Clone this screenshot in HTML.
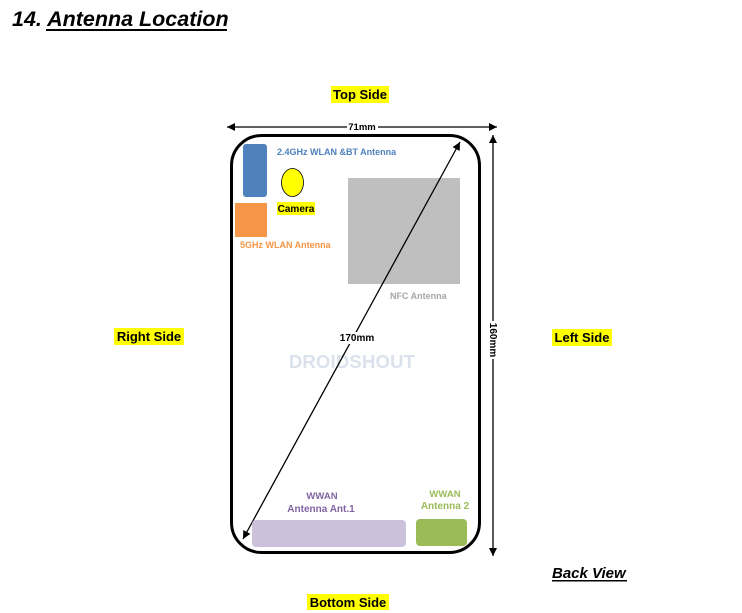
<!DOCTYPE html>
<html><head><meta charset="utf-8">
<style>
html,body{margin:0;padding:0;background:#fff;}
body{width:742px;height:613px;overflow:hidden;}
svg{display:block;}
text{font-family:"Liberation Sans",Arial,sans-serif;font-weight:bold;}
</style></head>
<body>
<svg width="742" height="613" viewBox="0 0 742 613" xmlns="http://www.w3.org/2000/svg">
<defs>
<marker id="ah" viewBox="0 0 10 10" refX="10" refY="5" markerWidth="9" markerHeight="8" markerUnits="userSpaceOnUse" orient="auto-start-reverse">
<path d="M0,0 L10,5 L0,10 z" fill="#000"/>
</marker>
</defs>

<!-- Title -->
<text x="12" y="26" font-size="21.5" font-style="italic" fill="#000">14. Antenna Location</text>
<rect x="46" y="29" width="181" height="2" fill="#000"/>

<!-- Top Side -->
<rect x="331" y="86" width="58" height="17" fill="#ffff00"/>
<text x="360" y="99" font-size="13" text-anchor="middle" fill="#000">Top Side</text>

<!-- 71mm arrow -->
<line x1="227" y1="127" x2="497" y2="127" stroke="#000" stroke-width="1.3" marker-start="url(#ah)" marker-end="url(#ah)"/>
<rect x="347" y="121" width="31" height="11" fill="#fff"/>
<text x="362" y="130" font-size="9.5" text-anchor="middle" fill="#000">71mm</text>

<!-- 160mm arrow -->
<line x1="493" y1="135" x2="493" y2="556" stroke="#000" stroke-width="1.3" marker-start="url(#ah)" marker-end="url(#ah)"/>
<rect x="488" y="321" width="11" height="38" fill="#fff"/>
<text x="0" y="0" font-size="10" text-anchor="middle" fill="#000" transform="translate(490,340) rotate(90)">160mm</text>

<!-- Phone outline -->
<rect x="231.5" y="135.5" width="248" height="417" rx="30" ry="30" fill="none" stroke="#000" stroke-width="3"/>

<!-- Blue antenna -->
<rect x="243" y="144" width="24" height="53" rx="3" fill="#4f81bd"/>
<text x="277" y="155" font-size="9" fill="#4f81bd">2.4GHz WLAN &amp;BT Antenna</text>

<!-- Camera -->
<ellipse cx="292.5" cy="182.5" rx="11" ry="14" fill="#ffff00" stroke="#000" stroke-width="0.8"/>
<rect x="277" y="202" width="38" height="13" fill="#ffff00"/>
<text x="296" y="212" font-size="10" text-anchor="middle" fill="#000">Camera</text>

<!-- Orange 5GHz -->
<rect x="235" y="203" width="32" height="34" fill="#f79646"/>
<text x="240" y="248" font-size="9" fill="#f79646">5GHz WLAN Antenna</text>

<!-- NFC -->
<rect x="348" y="178" width="112" height="106" fill="#bfbfbf"/>
<text x="390" y="299" font-size="9" fill="#a6a6a6">NFC Antenna</text>

<!-- Watermark -->
<text x="352" y="368" font-size="18.5" text-anchor="middle" fill="#dbe2ec" letter-spacing="0.2">DROIDSHOUT</text>

<!-- Diagonal arrow -->
<line x1="243" y1="539" x2="460" y2="142" stroke="#000" stroke-width="1.3" marker-start="url(#ah)" marker-end="url(#ah)"/>
<rect x="339" y="332" width="36" height="12" fill="#fff"/>
<text x="357" y="341" font-size="10" text-anchor="middle" fill="#000">170mm</text>

<!-- WWAN 1 -->
<text x="322" y="499" font-size="9.5" text-anchor="middle" fill="#8064a2">WWAN</text>
<text x="321" y="512" font-size="10" text-anchor="middle" fill="#8064a2">Antenna Ant.1</text>
<rect x="252" y="520" width="154" height="27" rx="4" fill="#ccc1da"/>

<!-- WWAN 2 -->
<text x="445" y="497" font-size="9.5" text-anchor="middle" fill="#9bbb59">WWAN</text>
<text x="445" y="509" font-size="10" text-anchor="middle" fill="#9bbb59">Antenna 2</text>
<rect x="416" y="519" width="51" height="27" rx="4" fill="#9bbb59"/>

<!-- Right Side -->
<rect x="114" y="328" width="70" height="17" fill="#ffff00"/>
<text x="149" y="341" font-size="13" text-anchor="middle" fill="#000">Right Side</text>

<!-- Left Side -->
<rect x="552" y="329" width="60" height="17" fill="#ffff00"/>
<text x="582" y="342" font-size="13" text-anchor="middle" fill="#000">Left Side</text>

<!-- Bottom Side -->
<rect x="307" y="594" width="82" height="16" fill="#ffff00"/>
<text x="348" y="607" font-size="13" text-anchor="middle" fill="#000">Bottom Side</text>

<!-- Back View -->
<text x="552" y="578" font-size="15" font-style="italic" fill="#000">Back View</text>
<rect x="552" y="580" width="75" height="1.5" fill="#000"/>
</svg>
</body></html>
